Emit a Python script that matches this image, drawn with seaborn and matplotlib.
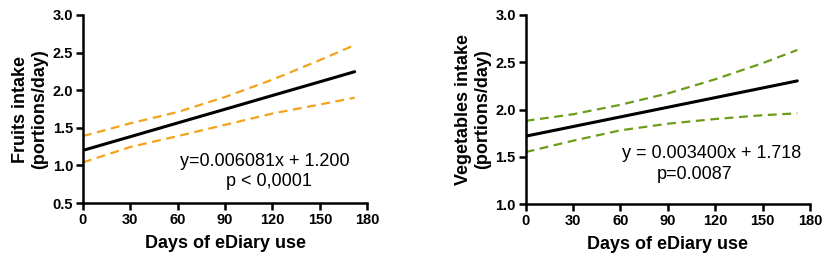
import seaborn as sns
import pandas as pd
import matplotlib.pyplot as plt
import numpy as np

# Data
days = [0, 30, 60, 90, 120, 150, 172]

fruit_fit = [1.200, 1.382, 1.565, 1.747, 1.930, 2.112, 2.246]
fruit_upper = [1.39, 1.56, 1.71, 1.91, 2.14, 2.40, 2.60]
fruit_lower = [1.04, 1.245, 1.39, 1.54, 1.69, 1.81, 1.90]

veg_fit = [1.718, 1.820, 1.922, 2.024, 2.126, 2.228, 2.303]
veg_upper = [1.88, 1.95, 2.05, 2.17, 2.32, 2.49, 2.63]
veg_lower = [1.55, 1.67, 1.78, 1.85, 1.90, 1.94, 1.96]

x_ticks = [0, 30, 60, 90, 120, 150, 180]

sns.set_style('ticks')
plt.rcParams['font.family'] = ['Liberation Sans', 'DejaVu Sans']
plt.rcParams['text.color'] = 'black'
plt.rcParams['axes.labelcolor'] = 'black'
plt.rcParams['xtick.color'] = 'black'
plt.rcParams['ytick.color'] = 'black'

fig = plt.figure(figsize=(8.29, 2.63), dpi=100)
ax1 = fig.add_axes([0.100, 0.228, 0.343, 0.715])
ax2 = fig.add_axes([0.634, 0.224, 0.343, 0.719])

panels = [
    (ax1, fruit_fit, fruit_upper, fruit_lower, '#f2a31b', 'Fruits intake\n(portions/day)',
     (0.5, 3.0), ['y=0.006081x + 1.200', 'p < 0,0001'], [(115, 1.05), (118, 0.78)]),
    (ax2, veg_fit, veg_upper, veg_lower, '#6c9d1a', 'Vegetables intake\n(portions/day)',
     (1.0, 3.0), ['y = 0.003400x + 1.718', 'p=0.0087'], [(118, 1.53), (107, 1.31)]),
]

for ax, fit, up, lo, col, ylab, ylim, texts, pos in panels:
    df = pd.DataFrame({'day': days, 'fit': fit, 'upper': up, 'lower': lo})
    sns.lineplot(data=df, x='day', y='upper', ax=ax, color=col, lw=1.6, linestyle=(0, (4, 2.5)))
    sns.lineplot(data=df, x='day', y='lower', ax=ax, color=col, lw=1.6, linestyle=(0, (4, 2.5)))
    sns.lineplot(data=df, x='day', y='fit', ax=ax, color='black', lw=2.2)

    ax.set_xlim(0, 180)
    ax.set_ylim(*ylim)
    ax.set_xticks(x_ticks)
    yt = np.arange(ylim[0], 3.01, 0.5)
    ax.set_yticks(yt)
    ax.set_yticklabels([f'{v:.1f}' for v in yt])
    ax.set_xlabel('Days of eDiary use', fontsize=13, fontweight='bold', labelpad=6)
    ax.set_ylabel(ylab, fontsize=13, fontweight='bold', labelpad=3)
    for lab in ax.get_xticklabels() + ax.get_yticklabels():
        lab.set_fontweight('bold')
        lab.set_fontsize(10.5)

    sns.despine(ax=ax)
    for s in ['left', 'bottom']:
        ax.spines[s].set_linewidth(1.8)
        ax.spines[s].set_color('black')
    ax.tick_params(axis='both', direction='out', length=5, width=1.8, color='black', pad=2)

    for t, (tx, ty) in zip(texts, pos):
        ax.text(tx, ty, t, ha='center', va='center', fontsize=13, color='black')

fig.savefig('out.png', dpi=100)
